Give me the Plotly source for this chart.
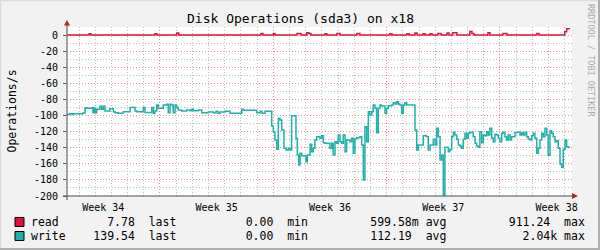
import plotly.graph_objects as go

# time axis: days since Monday of week 34
write_t = [1.25, 1.40, 1.55, 1.64, 2.24, 2.37, 2.47, 2.78, 2.86, 2.95,
           3.02, 3.09, 3.29, 3.40, 3.50, 3.60, 3.91, 4.12, 4.22, 4.42,
           4.73, 5.15, 5.46, 5.56, 5.97, 6.07, 6.49, 6.59, 6.69, 6.80,
           6.90, 7.20, 7.41, 7.51, 7.62, 7.72, 7.82, 7.93, 8.03, 8.13,
           8.34, 8.65, 8.85, 8.96, 9.06, 9.37, 9.58, 9.98, 10.29, 10.46,
           10.58, 10.71, 11.01, 11.32, 12.05, 12.15, 12.97, 13.18, 13.30, 13.49,
           13.90, 14.00, 14.10, 14.21, 14.31, 14.41, 14.52, 14.66, 14.78, 14.92,
           15.03, 15.13, 15.40, 15.48, 15.57, 15.65, 15.75, 16.02, 16.10, 16.27,
           16.37, 16.47, 16.57, 16.68, 16.88, 16.99, 17.09, 17.19, 17.50, 17.61,
           17.70, 17.81, 17.91, 18.01, 18.12, 18.22, 18.32, 18.43, 18.53, 18.74,
           18.84, 18.94, 19.04, 19.15, 19.35, 19.46, 19.56, 19.66, 19.77, 19.87,
           19.97, 20.08, 20.17, 20.28, 20.38, 20.48, 20.59, 20.69, 20.90, 21.00,
           21.10, 21.31, 21.41, 21.52, 21.62, 21.72, 21.82, 21.93, 22.03, 22.13,
           22.24, 22.75, 22.86, 22.95, 23.26, 23.47, 23.57, 23.68, 23.88, 23.99,
           24.09, 24.19, 24.30, 24.40, 24.50, 24.60, 24.81, 24.91, 25.02, 25.12,
           25.22, 25.33, 25.43, 25.53, 25.63, 25.73, 25.84, 25.94, 26.04, 26.15,
           26.35, 26.46, 26.56, 26.66, 26.76, 26.87, 26.97, 27.07, 27.18, 27.28,
           27.38, 27.49, 27.59, 27.69, 27.80, 27.90, 28.00, 28.11, 28.20, 28.31,
           28.41, 28.51, 28.62, 28.72, 28.93, 29.03, 29.24, 29.34, 29.44, 29.55,
           29.65, 29.75, 29.85, 29.96, 30.06, 30.16, 30.27, 30.37, 30.47, 30.58,
           30.68, 30.78, 30.89, 30.98, 31.09, 31.19, 31.29, 31.40, 31.50, 31.60,
           31.71, 31.81, 31.91, 32.02, 32.12, 32.22, 32.32]
write_ops = [98.8, 97.7, 98.5, 97.7, 96.9, 90.3, 91.1, 90.3, 96.5, 91.1,
             96.5, 92.3, 88.6, 92.3, 88.6, 94.4, 91.5, 95.2, 96.5, 97.3,
             95.2, 89.9, 94.4, 95.2, 89.9, 96.1, 89.9, 97.3, 94.4, 86.9,
             91.1, 86.9, 86.1, 96.5, 86.1, 86.9, 96.5, 86.9, 89.9, 93.2,
             94.4, 93.2, 94.0, 92.3, 94.0, 93.2, 96.5, 95.6, 96.5, 94.8,
             97.3, 95.6, 94.8, 97.3, 92.3, 93.6, 96.5, 94.8, 97.3, 94.8,
             113.0, 120.1, 130.4, 142.0, 103.5, 105.6, 118.0, 140.8, 142.9, 140.8,
             142.9, 100.2, 128.3, 149.1, 161.5, 147.0, 150.0, 157.4, 149.1, 135.8,
             144.9, 140.8, 130.4, 126.3, 128.3, 125.0, 133.7, 134.6, 140.8, 134.6,
             149.1, 132.5, 134.6, 124.2, 132.5, 134.6, 124.2, 144.9, 130.4, 132.5,
             128.3, 147.0, 129.2, 127.5, 126.3, 136.6, 180.1, 113.9, 132.5, 95.2,
             99.4, 95.2, 86.9, 91.1, 121.3, 91.1, 86.9, 88.2, 97.3, 91.1,
             87.8, 86.9, 84.0, 85.7, 82.8, 85.7, 86.9, 97.3, 86.9, 84.0,
             86.9, 118.0, 142.9, 136.6, 125.0, 126.3, 142.9, 136.6, 129.6, 136.6,
             115.9, 126.3, 155.3, 149.1, 198.8, 139.5, 144.9, 142.0, 126.3, 120.9,
             124.2, 129.6, 136.6, 137.9, 140.8, 129.6, 122.1, 128.3, 122.1, 120.9,
             126.3, 134.6, 137.9, 139.5, 120.1, 133.7, 124.2, 125.0, 120.1, 124.2,
             115.9, 128.3, 132.5, 123.4, 124.2, 128.3, 132.5, 122.1, 120.9, 126.3,
             130.4, 124.2, 130.4, 126.3, 121.3, 120.9, 124.2, 121.3, 124.2, 120.9,
             126.3, 129.2, 130.4, 125.0, 122.1, 128.3, 147.0, 140.8, 130.4, 122.1,
             126.3, 115.9, 124.2, 149.5, 118.9, 122.1, 126.3, 132.5, 131.2, 140.8,
             160.2, 164.4, 142.0, 130.4, 138.7, 139.54, 139.54]

read_t = [1.25, 2.62, 2.74, 6.69, 6.81, 8.03, 8.16, 13.24, 13.36, 14.00,
          14.10, 15.46, 15.71, 16.07, 16.19, 16.32, 17.19, 17.31, 17.93, 18.12,
          19.17, 19.35, 21.20, 21.33, 22.25, 22.38, 22.75, 22.88, 23.25, 23.37,
          23.68, 23.80, 24.17, 24.36, 24.73, 24.85, 25.09, 25.34, 26.14, 26.27,
          26.39, 27.26, 27.38, 28.18, 28.43, 30.28, 30.41, 32.00, 32.12, 32.32]
read_ops = [0, 1.5, 0, 1.5, 0, 2.5, 0, 2, 0, 2,
            0, 2, 0, 3, 2, 0, 1.5, 0, 2, 0,
            2, 0, 1.5, 0, 1.5, 0, 2.5, 0, 1.5, 0,
            1.5, 0, 2, 0, 2.5, 0, 3, 0, 4.5, 2,
            0, 3, 0, 2, 0, 2, 0, 4, 7.78, 7.78]

week_bounds = [7, 14, 21, 28]
day_lines = [d for d in range(2, 33) if d % 7]
week_mids = [3.5, 10.5, 17.5, 24.5, 31.5]
week_labels = ["Week 34", "Week 35", "Week 36", "Week 37", "Week 38"]
x_range = [1.256, 32.45]
y_range = [-200, 10]
y_major = list(range(-200, 1, 20))
y_minor = list(range(-190, 0, 20))

series_names = ["read", "write"]
series_colors = ["#DC143C", "#20B2AA"]
stat_last = ["7.78", "139.54"]
stat_min = ["0.00", "0.00"]
stat_avg = ["599.58m", "112.19"]
stat_max = ["911.24", "2.04k"]

MONO = "DejaVu Sans Mono"
W, H = 600, 250
L, R, T, B = 67, 28, 27, 54
PW, PH = W - L - R, H - T - B


def px(x):
    return (x - L) / PW


def py(y):
    return (H - B - y) / PH


fig = go.Figure()
fig.add_trace(go.Scatter(x=write_t, y=[-v for v in write_ops], mode="lines",
                         line=dict(color=series_colors[1], width=1.5, shape="hv"),
                         showlegend=False, hoverinfo="skip"))
fig.add_trace(go.Scatter(x=read_t, y=read_ops, mode="lines",
                         line=dict(color=series_colors[0], width=1.5, shape="hv"),
                         showlegend=False, hoverinfo="skip"))
fig.add_trace(go.Scatter(x=[], y=[], xaxis="x2", showlegend=False, hoverinfo="skip"))

MAJ = "#E68A8A"
MIN = "#BDBDBD"
fig.update_layout(
    width=W, height=H, autosize=False,
    margin=dict(l=L, r=R, t=T, b=B, pad=0),
    paper_bgcolor="#F2F2F2", plot_bgcolor="#FFFFFF",
    font=dict(family=MONO, size=10, color="#000000"),
    xaxis=dict(type="linear", range=x_range, tickvals=week_bounds, showticklabels=False,
               ticks="", showgrid=True, gridcolor=MAJ, griddash="1px,2px", gridwidth=1,
               minor=dict(tickvals=day_lines, showgrid=True, gridcolor=MIN,
                          griddash="1px,2px", gridwidth=1, ticks=""),
               zeroline=False, showline=False, fixedrange=True),
    xaxis2=dict(type="linear", range=x_range, overlaying="x", anchor="y", side="bottom",
                tickvals=week_mids, ticktext=week_labels, showgrid=False, ticks="",
                zeroline=False, showline=False, tickfont=dict(family=MONO, size=10),
                ticklabelstandoff=4),
    yaxis=dict(range=y_range, tickvals=y_major, ticktext=[str(v) for v in y_major],
               showgrid=True, gridcolor=MAJ, griddash="1px,2px", gridwidth=1,
               minor=dict(tickvals=y_minor, showgrid=True, gridcolor=MIN,
                          griddash="1px,2px", gridwidth=1, ticks=""),
               ticks="outside", ticklen=3, tickcolor="#555555", tickwidth=1,
               zeroline=False, showline=False, tickfont=dict(family=MONO, size=10),
               ticklabelstandoff=3, fixedrange=True),
)

shapes = []
AX = "#4A4A4A"
ARROW = "#A52A2A"
# axes with arrows
shapes.append(dict(type="line", xref="paper", yref="paper", x0=px(67), x1=px(67),
                   y0=py(200), y1=py(24), line=dict(color=AX, width=1)))
shapes.append(dict(type="line", xref="paper", yref="paper", x0=px(63), x1=px(574),
                   y0=py(196), y1=py(196), line=dict(color=AX, width=1)))
shapes.append(dict(type="path", xref="paper", yref="paper",
                   path=f"M {px(64)} {py(25.5)} L {px(70)} {py(25.5)} L {px(67)} {py(20)} Z",
                   fillcolor=ARROW, line=dict(width=0)))
shapes.append(dict(type="path", xref="paper", yref="paper",
                   path=f"M {px(572)} {py(193)} L {px(572)} {py(199)} L {px(578)} {py(196)} Z",
                   fillcolor=ARROW, line=dict(width=0)))
# frame
shapes.append(dict(type="line", xref="paper", yref="paper", x0=px(0), x1=px(600),
                   y0=py(0.5), y1=py(0.5), line=dict(color="#DCDCDC", width=1.5)))
shapes.append(dict(type="line", xref="paper", yref="paper", x0=px(0.5), x1=px(0.5),
                   y0=py(0), y1=py(250), line=dict(color="#DCDCDC", width=1.5)))
shapes.append(dict(type="line", xref="paper", yref="paper", x0=px(0), x1=px(600),
                   y0=py(249), y1=py(249), line=dict(color="#AFAFAF", width=2)))
shapes.append(dict(type="line", xref="paper", yref="paper", x0=px(599), x1=px(599),
                   y0=py(0), y1=py(250), line=dict(color="#AFAFAF", width=2)))

annotations = []
annotations.append(dict(text="Disk Operations (sda3) on x18", xref="paper", yref="paper",
                        x=px(300), y=py(19), xanchor="center", yanchor="middle",
                        showarrow=False, font=dict(family=MONO, size=13, color="#000")))
annotations.append(dict(text="Operations/s", xref="paper", yref="paper", x=px(11), y=py(111.5),
                        xanchor="center", yanchor="middle", textangle=-90, showarrow=False,
                        font=dict(family=MONO, size=11.5, color="#000")))
annotations.append(dict(text="RRDTOOL / TOBI OETIKER", xref="paper", yref="paper",
                        x=px(591), y=py(60), xanchor="center", yanchor="middle", textangle=90,
                        showarrow=False, font=dict(family=MONO, size=8.5, color="#AAAAAA")))


def si(s):
    return s if not s[-1].isdigit() else s + " "


row_y = [222, 236]
for i, name in enumerate(series_names):
    line = (f"{name:<5}{si(stat_last[i]):>11} last{si(stat_min[i]):>15} min"
            f"{si(stat_avg[i]):>16} avg{si(stat_max[i]):>16} max")
    line = line.replace(" ", "\u00a0")
    annotations.append(dict(text=line, xref="paper", yref="paper", x=px(30), y=py(row_y[i]),
                            xanchor="left", yanchor="middle", showarrow=False, borderpad=0,
                            font=dict(family=MONO, size=11.5, color="#000")))
    shapes.append(dict(type="rect", xref="paper", yref="paper",
                       x0=px(15), x1=px(24), y0=py(row_y[i] - 4.5), y1=py(row_y[i] + 4.5),
                       fillcolor=series_colors[i], line=dict(color="#000", width=1)))

fig.update_layout(shapes=shapes, annotations=annotations)
fig.write_html("out.html")
